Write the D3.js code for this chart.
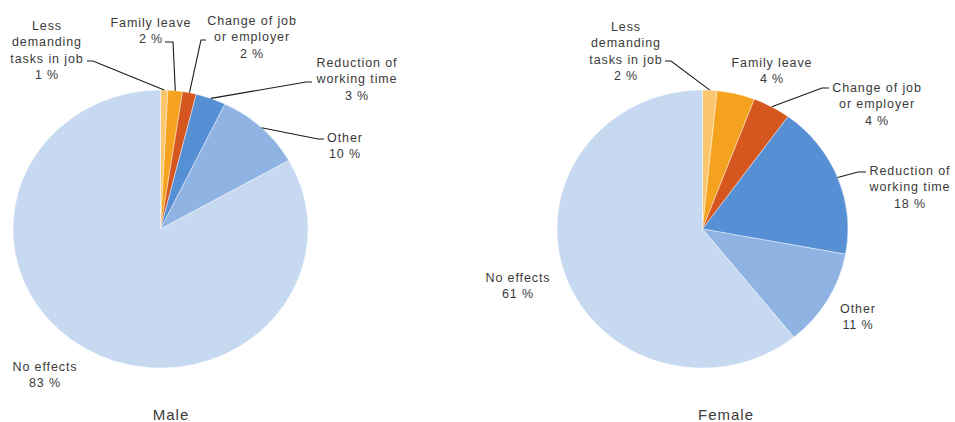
<!DOCTYPE html>
<html>
<head>
<meta charset="utf-8">
<script src="https://cdn.jsdelivr.net/npm/d3@7"></script>
<style>
  body { margin: 0; background: #fff; }
  text { font-family: "Liberation Sans", Arial, sans-serif; fill: #3a3a3a; }
</style>
</head>
<body>
<svg id="chart" width="955" height="422"></svg>
<script>
// categories, clockwise from 12 o'clock
const categories = ["Less demanding tasks in job", "Family leave", "Change of job or employer",
  "Reduction of working time", "Other", "No effects"];
const maleValues = [0.8, 1.6, 1.5, 3.3, 9.6, 83.2];
const femaleValues = [1.6, 4.2, 4.2, 17.9, 11.3, 60.8];
const maleLabels = [1, 2, 2, 3, 10, 83];
const femaleLabels = [2, 4, 4, 18, 11, 61];
const labelLines = [["Less", "demanding", "tasks in job"], ["Family leave"], ["Change of job", "or employer"],
  ["Reduction of", "working time"], ["Other"], ["No effects"]];
const colors = ["#fbc66e", "#f5a31e", "#d5561f", "#568fd4", "#8fb3e2", "#c6d9f0"];

// layout: label centre x, first line y, leader start [x,y] (null = no leader), elbow length
const maleLayout = [
  { x: 47, y: 25, lead: [87, 61], elbow: 6 },
  { x: 151, y: 22, lead: [165, 42], elbow: 8 },
  { x: 252, y: 20, lead: [206, 40], elbow: -5 },
  { x: 357, y: 62, lead: [312, 82], elbow: -6 },
  { x: 345, y: 137, lead: [324, 139], elbow: -6 },
  { x: 45, y: 366, lead: null }
];
const femaleLayout = [
  { x: 626, y: 26, lead: [665, 61], elbow: 6 },
  { x: 772, y: 62, lead: null },
  { x: 877, y: 87, lead: [829, 88], elbow: -7 },
  { x: 910, y: 170, lead: [866, 172], elbow: -8 },
  { x: 858, y: 308, lead: null },
  { x: 518, y: 277, lead: null }
];

const svg = d3.select("#chart");
const lineH = 16.5;

function drawPie(values, labels, layout, cx, cy, rx, ry, title, titleX) {
  const pie = d3.pie().sort(null).value((d) => d);
  const arcs = pie(values);
  const arc = d3.arc().innerRadius(0).outerRadius(ry);

  const g = svg.append("g")
    .attr("transform", "translate(" + cx + "," + cy + ") scale(" + rx / ry + ",1)");

  g.selectAll("path")
    .data(arcs)
    .enter()
    .append("path")
    .attr("d", arc)
    .style("fill", (d, i) => colors[i])
    .style("stroke", "#fff")
    .style("stroke-width", 0.4);

  // point on the pie edge at the slice's middle angle
  const edge = (d) => {
    const a = (d.startAngle + d.endAngle) / 2;
    return [cx + rx * Math.sin(a), cy - ry * Math.cos(a)];
  };

  arcs.forEach((d, i) => {
    const lay = layout[i];
    if (lay.lead) {
      const p = edge(d);
      const pts = [lay.lead, [lay.lead[0] + lay.elbow, lay.lead[1]], p];
      svg.append("path")
        .attr("d", d3.line()(pts))
        .style("fill", "none")
        .style("stroke", "#1a1a1a")
        .style("stroke-width", 1.1);
    }
    const lines = labelLines[i].concat([labels[i] + " %"]);
    const t = svg.append("text")
      .attr("text-anchor", "middle")
      .style("font-size", "12.5px")
      .style("letter-spacing", "0.9px");
    lines.forEach((s, k) => {
      t.append("tspan")
        .attr("x", lay.x)
        .attr("y", lay.y + k * lineH + 4.5)
        .text(s);
    });
  });

  svg.append("text")
    .attr("x", titleX)
    .attr("y", 420)
    .attr("text-anchor", "middle")
    .style("font-size", "15px")
    .style("letter-spacing", "1px")
    .text(title);
}

drawPie(maleValues, maleLabels, maleLayout, 160.5, 229, 147.5, 139, "Male", 171);
drawPie(femaleValues, femaleLabels, femaleLayout, 702.5, 229, 145.5, 139, "Female", 726);
</script>
</body>
</html>
